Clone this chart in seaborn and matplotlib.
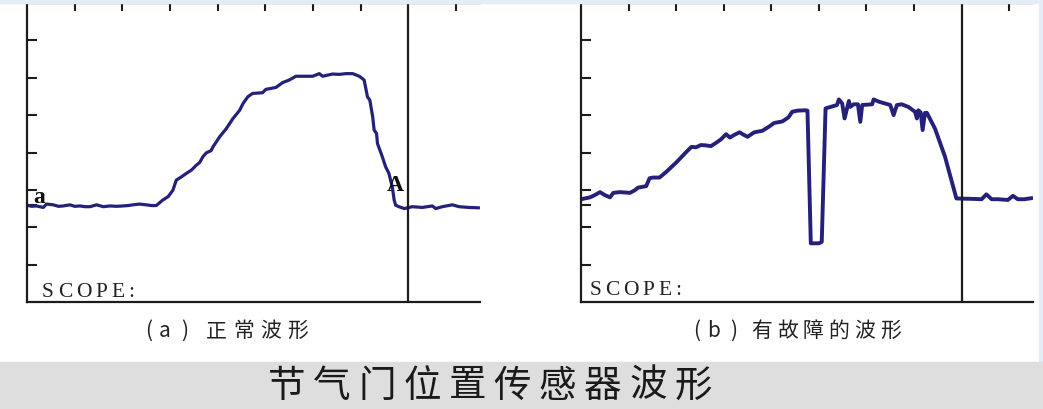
import matplotlib
matplotlib.use('Agg')
import matplotlib.pyplot as plt
import matplotlib.transforms as mtransforms
import seaborn as sns
from matplotlib.patches import Rectangle

# normal throttle position sensor trace (a)
normal_x = [0.00, 0.10, 0.20, 0.34, 0.41, 0.55, 0.66, 0.76, 0.90, 1.00, 1.11, 1.22, 1.32, 1.46, 1.60,
            1.74, 1.88, 2.01, 2.12, 2.22, 2.36, 2.50, 2.62, 2.71, 2.85, 2.96, 3.06, 3.13, 3.24, 3.34,
            3.45, 3.55, 3.62, 3.69, 3.76, 3.86, 3.90, 4.04, 4.18, 4.32, 4.46, 4.53, 4.63, 4.73, 4.94,
            5.01, 5.22, 5.36, 5.50, 5.64, 5.80, 5.99, 6.13, 6.20, 6.41, 6.55, 6.69, 6.83, 6.97, 7.07,
            7.14, 7.19, 7.25, 7.28, 7.33, 7.35, 7.45, 7.52, 7.59, 7.66, 7.70, 7.73, 7.80, 7.91, 8.08,
            8.29, 8.50, 8.57, 8.71, 8.92, 9.06, 9.27, 9.48]
normal_y = [2.59, 2.56, 2.57, 2.53, 2.62, 2.60, 2.56, 2.57, 2.60, 2.56, 2.57, 2.55, 2.55, 2.60, 2.55,
            2.57, 2.56, 2.57, 2.58, 2.60, 2.62, 2.60, 2.58, 2.58, 2.73, 2.82, 2.99, 3.26, 3.35, 3.44,
            3.53, 3.66, 3.73, 3.89, 3.99, 4.05, 4.15, 4.42, 4.64, 4.91, 5.13, 5.31, 5.49, 5.58, 5.60,
            5.69, 5.74, 5.87, 5.94, 6.04, 6.04, 6.04, 6.11, 6.04, 6.10, 6.09, 6.11, 6.11, 6.04, 5.94,
            5.49, 5.40, 4.95, 4.60, 4.51, 4.24, 3.89, 3.62, 3.44, 3.08, 2.73, 2.59, 2.55, 2.50, 2.55,
            2.53, 2.57, 2.50, 2.55, 2.60, 2.55, 2.53, 2.52]

# faulty trace (b)
fault_x = [0.00, 0.19, 0.29, 0.40, 0.50, 0.61, 0.68, 0.82, 1.03, 1.13, 1.20, 1.37, 1.44, 1.51, 1.65,
           1.79, 2.00, 2.21, 2.32, 2.42, 2.52, 2.63, 2.73, 2.84, 2.94, 3.05, 3.13, 3.22, 3.33, 3.41,
           3.50, 3.64, 3.81, 3.95, 4.06, 4.23, 4.36, 4.44, 4.55, 4.72, 4.76, 4.83, 5.00, 5.06, 5.14,
           5.38, 5.42, 5.49, 5.54, 5.63, 5.66, 5.73, 5.82, 5.87, 5.91, 6.12, 6.15, 6.26, 6.50, 6.57,
           6.64, 6.74, 6.88, 7.02, 7.06, 7.09, 7.14, 7.18, 7.23, 7.27, 7.44, 7.65, 7.89, 8.21, 8.42,
           8.52, 8.63, 8.77, 8.97, 9.08, 9.18, 9.32, 9.48]
fault_y = [2.75, 2.80, 2.86, 2.94, 2.86, 2.80, 2.92, 2.94, 2.92, 2.99, 3.06, 3.10, 3.31, 3.33, 3.33,
           3.48, 3.73, 4.01, 4.15, 4.14, 4.20, 4.19, 4.17, 4.26, 4.35, 4.49, 4.40, 4.47, 4.54, 4.48,
           4.42, 4.54, 4.58, 4.69, 4.79, 4.83, 4.94, 5.09, 5.12, 5.13, 5.12, 1.57, 1.57, 1.61, 5.18,
           5.27, 5.42, 5.31, 4.91, 5.38, 5.22, 5.29, 5.29, 4.82, 5.27, 5.29, 5.42, 5.36, 5.27, 5.00,
           5.27, 5.29, 5.22, 5.09, 4.91, 5.13, 5.07, 4.60, 5.06, 5.06, 4.64, 3.89, 2.77, 2.76, 2.75,
           2.88, 2.75, 2.75, 2.73, 2.84, 2.75, 2.75, 2.78]

x_ticks = [1, 2, 3, 4, 5, 6, 7, 9]
y_ticks = [1, 2, 3, 4, 5, 6, 7]
cursor_x = 8
caption_a = '(a)正常波形'
caption_b = '(b)有故障的波形'
title = '节气门位置传感器波形'

TRACE = '#25207a'
INK = '#1c1c1c'

sns.set_style('white')
plt.rcParams['font.family'] = ['Noto Sans CJK SC', 'DejaVu Sans']


def spaced_text(fig, trans, x, y, chars, advances, **kw):
    dx = 0.0
    for ch, adv in zip(chars, advances):
        t = mtransforms.offset_copy(trans, fig=fig, x=dx, y=0, units='dots')
        fig.text(x, y, ch, transform=t, ha='center', **kw)
        dx += adv


def setup_scope(ax, scope_x, scope_y):
    ax.set_xlim(0, 9.5)
    ax.set_ylim(0, 8)
    ax.set_xticks(x_ticks)
    ax.set_yticks(y_ticks)
    ax.set_yticks([2.6], minor=True)
    ax.tick_params(axis='x', which='both', direction='in', top=True, bottom=False,
                   labeltop=False, labelbottom=False, length=6, width=1.5, color=INK)
    ax.tick_params(axis='y', which='both', direction='in', left=True, right=False,
                   labelleft=False, length=7, width=1.5, color=INK)
    ax.set_xlabel('')
    ax.set_ylabel('')
    ax.spines['right'].set_visible(False)
    for s in ('left', 'top', 'bottom'):
        ax.spines[s].set_color(INK)
        ax.spines[s].set_linewidth(1.6)
    ax.axvline(cursor_x, color=INK, lw=1.6, zorder=3)
    spaced_text(ax.figure, ax.transData, scope_x, scope_y, 'SCOPE:',
                [17.5, 18, 18, 16.5, 13, 10], family='Liberation Serif', fontsize=15.5,
                color='#222222', va='baseline')


fig = plt.figure(figsize=(10.43, 4.09), dpi=100)
W, H = 1043, 409

# header tint and bottom band
fig.patches.append(Rectangle((0, 1 - 3 / H), 1, 3 / H, transform=fig.transFigure,
                             color='#e4ecf6', zorder=0))
fig.patches.append(Rectangle((1 - 4 / W, 0), 4 / W, 1, transform=fig.transFigure,
                             color='#e4ecf6', zorder=0))
fig.patches.append(Rectangle((0, 0), 1, 47 / H, transform=fig.transFigure,
                             color='#dedede', zorder=0))

ax1 = fig.add_axes([27 / W, (H - 302) / H, 453 / W, 299 / H])
ax2 = fig.add_axes([581 / W, (H - 302) / H, 452 / W, 299 / H])
for ax in (ax1, ax2):
    ax.patch.set_alpha(0)

sns.lineplot(x=normal_x, y=normal_y, ax=ax1, color=TRACE, lw=2.3, sort=False, estimator=None)
sns.lineplot(x=fault_x, y=fault_y, ax=ax2, color=TRACE, lw=2.8, sort=False, estimator=None)

setup_scope(ax1, 0.44, 0.13)
setup_scope(ax2, 0.30, 0.19)

ax1.text(0.13, 2.65, 'a', family='Liberation Serif', fontweight='bold', fontsize=17,
         color='#111111', ha='left', va='baseline', zorder=4)
ax1.text(7.72, 2.98, 'A', family='Liberation Serif', fontweight='bold', fontsize=17,
         color='#111111', ha='center', va='baseline', zorder=4)

# captions under each panel
adv_a = [16, 20, 32, 27, 27, 27, 27]
adv_b = [17, 20, 28.5, 25.7, 25.7, 25.7, 25.7, 25.7, 25.7]
spaced_text(fig, fig.transFigure, 148.5 / W, 1 - 331 / H, caption_a, adv_a,
            fontsize=15, color='#222222', va='center')
spaced_text(fig, fig.transFigure, 696.5 / W, 1 - 331 / H, caption_b, adv_b,
            fontsize=15, color='#222222', va='center')

# banner title
spaced_text(fig, fig.transFigure, 287 / W, 1 - 386 / H, title, [45.1] * len(title),
            fontsize=27, color='#1a1a1a', va='center')

fig.savefig('out.png', dpi=100)
